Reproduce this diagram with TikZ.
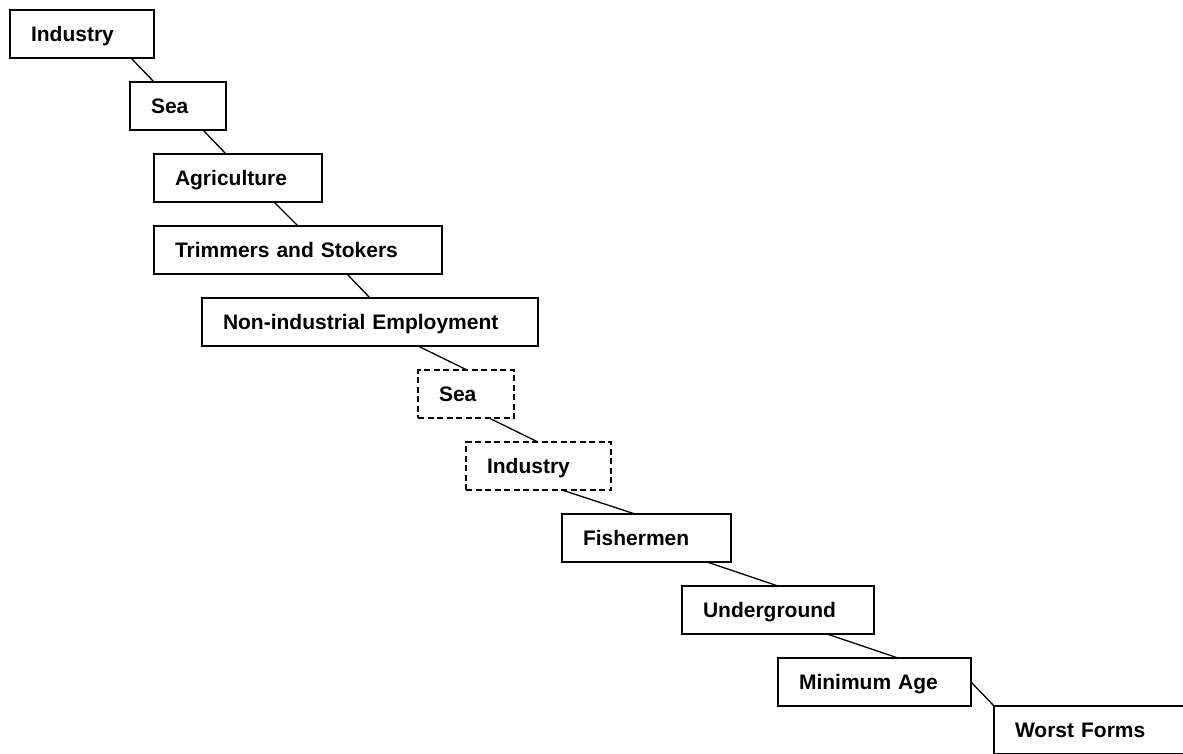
\documentclass[tikz,border=0pt]{standalone}
\usepackage{fontspec}
\setmainfont[WordSpace=1.4]{Liberation Sans}
\begin{document}
\begin{tikzpicture}[x=1pt,y=-1pt,
  bx/.style={draw, line width=1.4pt, anchor=north west, outer sep=0pt,
    minimum height=48pt, inner xsep=21pt, inner ysep=0pt, text width=#1,
    align=left, font=\fontsize{21}{24}\selectfont\bfseries,
    text height=15pt, text depth=0pt},
  dbx/.style={bx=#1, dash pattern=on 6pt off 3.5pt},
  ln/.style={line width=1.3pt}]
\useasboundingbox (0,0) rectangle (1183,754);
\node[bx=102pt] (ind1) at (10,10) {Industry};
\node[bx=54pt] (sea1) at (130,82) {Sea};
\node[bx=126pt] (agri) at (154,154) {Agriculture};
\node[bx=246pt] (trim) at (154,226) {Trimmers and Stokers};
\node[bx=294pt] (non) at (202,298) {Non-industrial Employment};
\node[dbx=54pt] (sea2) at (418,370) {Sea};
\node[dbx=103pt] (ind2) at (466,442) {Industry};
\node[bx=127pt] (fish) at (562,514) {Fishermen};
\node[bx=150pt] (under) at (682,586) {Underground};
\node[bx=151pt] (minage) at (778,658) {Minimum Age};
\node[bx=150pt] (worst) at (994,706) {Worst Forms};
\draw[ln] ([xshift=121pt]ind1.south west) -- ([xshift=24pt]sea1.north west);
\draw[ln] ([xshift=73pt]sea1.south west) -- ([xshift=72pt]agri.north west);
\draw[ln] ([xshift=120pt]agri.south west) -- ([xshift=144pt]trim.north west);
\draw[ln] ([xshift=193pt]trim.south west) -- ([xshift=168pt]non.north west);
\draw[ln] ([xshift=216pt]non.south west) -- ([xshift=49pt]sea2.north west);
\draw[ln] ([xshift=71pt]sea2.south west) -- ([xshift=72pt]ind2.north west);
\draw[ln] ([xshift=96pt]ind2.south west) -- ([xshift=73pt]fish.north west);
\draw[ln] ([xshift=145pt]fish.south west) -- ([xshift=96pt]under.north west);
\draw[ln] ([xshift=145pt]under.south west) -- ([xshift=120pt]minage.north west);
\draw[ln] (minage.east) -- (worst.north west);
\end{tikzpicture}
\end{document}
